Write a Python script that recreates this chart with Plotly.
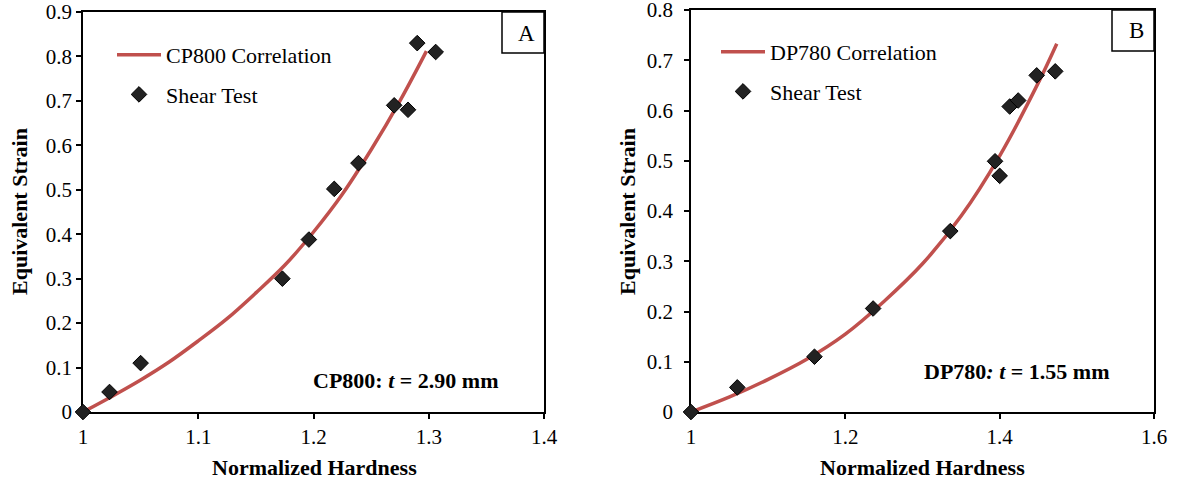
import plotly.graph_objects as go

# ---------------- Data ----------------
# Panel A : CP800
cp800_test_h = [1.000, 1.023, 1.050, 1.173, 1.196, 1.218, 1.239, 1.270, 1.282, 1.290, 1.306]
cp800_test_e = [0.000, 0.045, 0.110, 0.300, 0.388, 0.502, 0.560, 0.690, 0.680, 0.830, 0.810]
cp800_corr_h = [1.000, 1.025, 1.050, 1.075, 1.100, 1.125, 1.150, 1.175, 1.200, 1.225, 1.250, 1.275, 1.298]
cp800_corr_e = [0.000, 0.035, 0.072, 0.113, 0.160, 0.210, 0.268, 0.330, 0.405, 0.490, 0.590, 0.700, 0.812]

# Panel B : DP780
dp780_test_h = [1.000, 1.060, 1.160, 1.236, 1.336, 1.394, 1.400, 1.413, 1.424, 1.448, 1.472]
dp780_test_e = [0.000, 0.049, 0.110, 0.206, 0.360, 0.499, 0.470, 0.608, 0.620, 0.670, 0.678]
dp780_corr_h = [1.000, 1.050, 1.100, 1.150, 1.200, 1.250, 1.300, 1.350, 1.400, 1.450, 1.474]
dp780_corr_e = [0.000, 0.030, 0.065, 0.105, 0.155, 0.220, 0.295, 0.390, 0.510, 0.655, 0.733]

RED = "#C0504D"
FONT = "Liberation Serif"

fig = go.Figure()

fig.add_trace(go.Scatter(x=cp800_corr_h, y=cp800_corr_e, mode="lines", name="CP800 Correlation",
                         line=dict(color=RED, width=3.5, shape="spline"),
                         xaxis="x", yaxis="y", legend="legend", legendgroup="a1", cliponaxis=False))
fig.add_trace(go.Scatter(x=cp800_test_h, y=cp800_test_e, mode="markers", name="Shear Test",
                         marker=dict(symbol="diamond", size=12, color="#222222",
                                     line=dict(color="#000000", width=1)),
                         xaxis="x", yaxis="y", legend="legend", legendgroup="a2", cliponaxis=False))
fig.add_trace(go.Scatter(x=dp780_corr_h, y=dp780_corr_e, mode="lines", name="DP780 Correlation",
                         line=dict(color=RED, width=3.5, shape="spline"),
                         xaxis="x2", yaxis="y2", legend="legend2", legendgroup="b1", cliponaxis=False))
fig.add_trace(go.Scatter(x=dp780_test_h, y=dp780_test_e, mode="markers", name="Shear Test",
                         marker=dict(symbol="diamond", size=12, color="#222222",
                                     line=dict(color="#000000", width=1)),
                         xaxis="x2", yaxis="y2", legend="legend2", legendgroup="b2", cliponaxis=False))

W, H = 1179, 482
def px(v): return v / W
def py(v): return 1 - v / H

axis_common = dict(showline=True, linecolor="black", linewidth=1.5, mirror=True,
                   ticks="outside", ticklen=5, tickwidth=1.5, tickcolor="black",
                   showgrid=False, zeroline=False, layer="below traces", automargin=False,
                   ticklabeloverflow="allow", tick0=0,
                   tickfont=dict(family=FONT, size=21, color="black"))

legend_common = dict(xanchor="left", yanchor="top", bgcolor="rgba(0,0,0,0)",
                     font=dict(family=FONT, size=22, color="black"),
                     itemwidth=44, tracegroupgap=8, borderwidth=0)

fig.update_layout(
    template="none",
    width=W, height=H,
    margin=dict(l=0, r=0, t=0, b=0, autoexpand=False),
    paper_bgcolor="white", plot_bgcolor="white",
    showlegend=True,
    xaxis=dict(domain=[px(83), px(544)], range=[1, 1.4], dtick=0.1, anchor="y", **axis_common),
    yaxis=dict(domain=[py(412), py(12)], range=[0, 0.9], dtick=0.1, anchor="x", **axis_common),
    xaxis2=dict(domain=[px(691), px(1154)], range=[1, 1.6], dtick=0.2, anchor="y2", **axis_common),
    yaxis2=dict(domain=[py(412), py(10)], range=[0, 0.8001], dtick=0.1, anchor="x2",
                ticklabelstandoff=7, **axis_common),
    legend=dict(x=px(112), y=py(34), **legend_common),
    legend2=dict(x=px(716), y=py(31), **legend_common),
)

# Panel letter boxes
fig.add_shape(type="rect", xref="paper", yref="paper", x0=px(502), x1=px(544), y0=py(53), y1=py(12),
              line=dict(color="black", width=1.5), fillcolor="white")
fig.add_shape(type="rect", xref="paper", yref="paper", x0=px(1112), x1=px(1154), y0=py(51), y1=py(10),
              line=dict(color="black", width=1.5), fillcolor="white")

def note(text, x, y, size, angle=0):
    return dict(text=text, x=px(x), y=py(y), xref="paper", yref="paper", showarrow=False,
                xanchor="center", yanchor="middle", textangle=angle,
                font=dict(family=FONT, size=size, color="black"))

ann = [
    note("A", 526, 34, 23),
    note("B", 1136, 31, 23),
    note("<b>CP800: <i>t</i> = 2.90 mm</b>", 405, 380, 22),
    note("<b>DP780<i>: t</i> = 1.55 mm</b>", 1016, 371, 22),
    note("<b>Normalized Hardness</b>", 314, 467, 22),
    note("<b>Normalized Hardness</b>", 923, 467, 22),
    note("<b>Equivalent Strain</b>", 19, 212, 22, -90),
    note("<b>Equivalent Strain</b>", 627, 212, 22, -90),
]
fig.update_layout(annotations=ann)

fig.write_html("out.html")
